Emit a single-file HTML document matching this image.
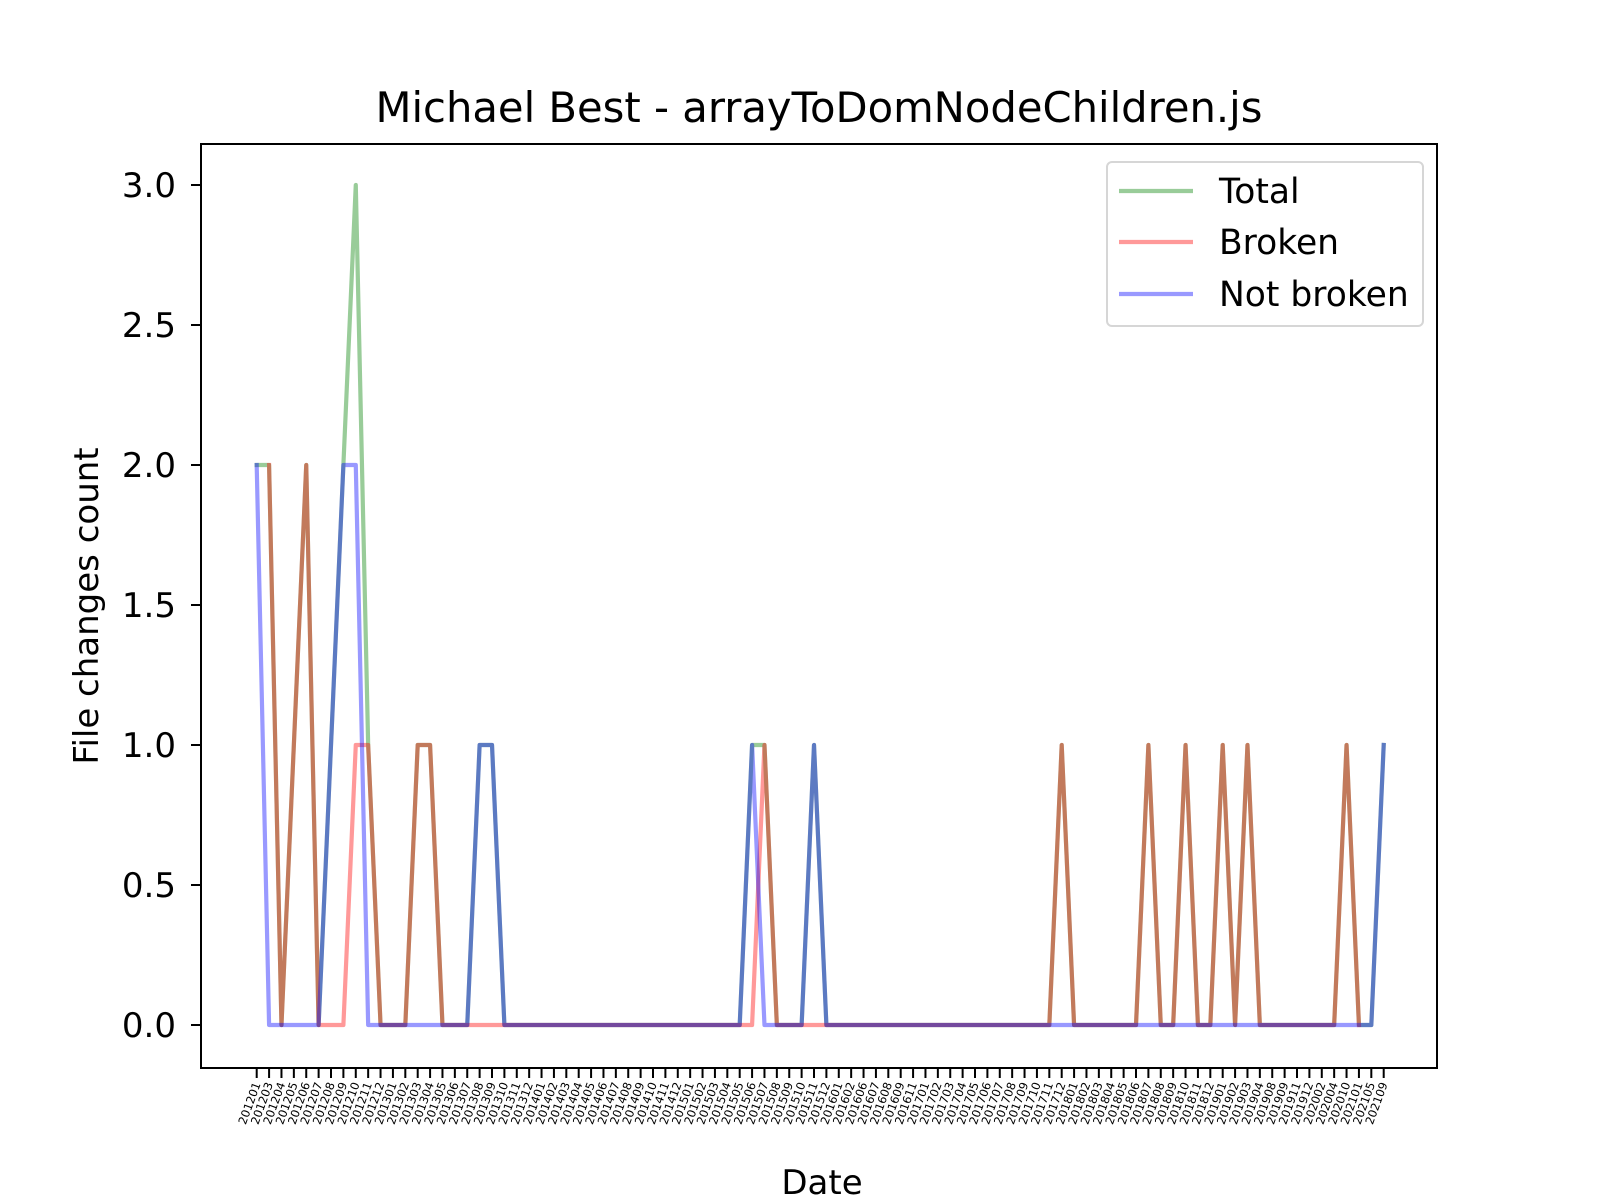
<!DOCTYPE html>
<html><head><meta charset="utf-8"><style>
html,body{margin:0;padding:0;background:#fff;}
svg{display:block;font-family:"DejaVu Sans","Liberation Sans",sans-serif;}
</style></head><body>
<svg id="chart" width="1600" height="1200" viewBox="0 0 1600 1200" xmlns="http://www.w3.org/2000/svg">
<rect width="1600" height="1200" fill="#fff"/>
<text x="819" y="122" font-size="41.7" text-anchor="middle">Michael Best - arrayToDomNodeChildren.js</text>
<g id="plot"></g>
<rect x="201" y="144" width="1236" height="924" fill="none" stroke="#000" stroke-width="2"/>
<text x="822" y="1194" font-size="34" text-anchor="middle">Date</text>
<text transform="translate(98,606) rotate(-90)" font-size="34" text-anchor="middle">File changes count</text>
<g>
<rect x="1107" y="162" width="316" height="164" rx="5" fill="#fff" fill-opacity="0.8" stroke="#d6d6d6" stroke-width="2"/>
<line x1="1119" y1="191" x2="1193" y2="191" stroke="#008000" stroke-opacity="0.4" stroke-width="4.2"/>
<text x="1219" y="203" font-size="34.5">Total</text>
<line x1="1119" y1="242" x2="1193" y2="242" stroke="#ff0000" stroke-opacity="0.4" stroke-width="4.2"/>
<text x="1219" y="254" font-size="34.5">Broken</text>
<line x1="1119" y1="294" x2="1193" y2="294" stroke="#0000ff" stroke-opacity="0.4" stroke-width="4.2"/>
<text x="1219" y="306" font-size="34.5">Not broken</text>
</g>
</svg>
<script>
const categories = ["201201","201203","201204","201205","201206","201207","201208","201209","201210","201211","201212",
"201301","201302","201303","201304","201305","201306","201307","201308","201309","201310","201311","201312",
"201401","201402","201403","201404","201405","201406","201407","201408","201409","201410","201411","201412",
"201501","201502","201503","201504","201505","201506","201507","201508","201509","201510","201511","201512",
"201601","201602","201606","201607","201608","201609","201611",
"201701","201702","201703","201704","201705","201706","201707","201708","201709","201710","201711","201712",
"201801","201802","201803","201804","201805","201806","201807","201808","201809","201810","201811","201812",
"201901","201902","201903","201904","201908","201909","201911","201912","202002","202004","202010","202101","202105","202109"];
const totalValues = [2,2,0,1,2,0,1,2,3,1,0,0,0,1,1,0,0,0,1,1,0,0,0,0,0,0,0,0,0,0,0,0,0,0,0,0,0,0,0,0,1,1,0,0,0,1,0,0,0,0,0,0,0,0,0,0,0,0,0,0,0,0,0,0,0,1,0,0,0,0,0,0,1,0,0,1,0,0,1,0,1,0,0,0,0,0,0,0,1,0,0,1];
const brokenValues = [null,2,0,1,2,0,0,0,1,1,0,0,0,1,1,0,0,0,0,0,0,0,0,0,0,0,0,0,0,0,0,0,0,0,0,0,0,0,0,0,0,1,0,0,0,0,0,0,0,0,0,0,0,0,0,0,0,0,0,0,0,0,0,0,0,1,0,0,0,0,0,0,1,0,0,1,0,0,1,0,1,0,0,0,0,0,0,0,1,0,null,null];
const notBrokenValues = [2,0,0,0,0,0,1,2,2,0,0,0,0,0,0,0,0,0,1,1,0,0,0,0,0,0,0,0,0,0,0,0,0,0,0,0,0,0,0,0,1,0,0,0,0,1,0,0,0,0,0,0,0,0,0,0,0,0,0,0,0,0,0,0,0,0,0,0,0,0,0,0,0,0,0,0,0,0,0,0,0,0,0,0,0,0,0,0,0,0,0,1];
const yTicks = [0,0.5,1,1.5,2,2.5,3];
const yTickLabels = ["0.0","0.5","1.0","1.5","2.0","2.5","3.0"];

const NS="http://www.w3.org/2000/svg";
const g=document.getElementById('plot');
const x0=256.7, x1=1383.7;
function xs(i){return x0+(x1-x0)*i/(categories.length-1);}
function ys(v){return 1025-280*v;}
function mk(t){return document.createElementNS(NS,t);}

yTicks.forEach((v,k)=>{
  const l=mk('line');
  l.setAttribute('x1',191);l.setAttribute('x2',201);l.setAttribute('y1',ys(v));l.setAttribute('y2',ys(v));
  l.setAttribute('stroke','#000');l.setAttribute('stroke-width','2');
  
  
  g.appendChild(l);
  const t=mk('text');
  t.setAttribute('x',176);t.setAttribute('y',ys(v)+12);t.setAttribute('font-size','34');t.setAttribute('text-anchor','end');
  t.textContent=yTickLabels[k];
  
  
  g.appendChild(t);
});
categories.forEach((c,i)=>{
  const x=xs(i);
  const l=mk('line');
  l.setAttribute('x1',x);l.setAttribute('x2',x);l.setAttribute('y1',1068);l.setAttribute('y2',1078);
  l.setAttribute('stroke','#000');l.setAttribute('stroke-width','2');
  
  
  g.appendChild(l);
  const t=mk('text');
  t.setAttribute('transform','translate('+(x+4)+',1084) rotate(-70)');
  t.setAttribute('font-size','11.5');t.setAttribute('text-anchor','end');
  t.textContent=c;
  
  
  g.appendChild(t);
});
function series(vals,color,name){
  let d='',pen=false;
  vals.forEach((v,i)=>{
    if(v===null){pen=false;return;}
    d+=(pen?'L':'M')+xs(i).toFixed(2)+' '+ys(v).toFixed(2)+' ';pen=true;
  });
  const p=mk('path');
  p.setAttribute('d',d);p.setAttribute('fill','none');p.setAttribute('stroke',color);
  p.setAttribute('stroke-opacity','0.4');p.setAttribute('stroke-width','4.2');
  p.setAttribute('stroke-linejoin','round');p.setAttribute('stroke-linecap','square');
  
  
  g.appendChild(p);
}
series(totalValues,'#008000','total-line');
series(brokenValues,'#ff0000','broken-line');
series(notBrokenValues,'#0000ff','not-broken-line');
</script>
</body></html>
